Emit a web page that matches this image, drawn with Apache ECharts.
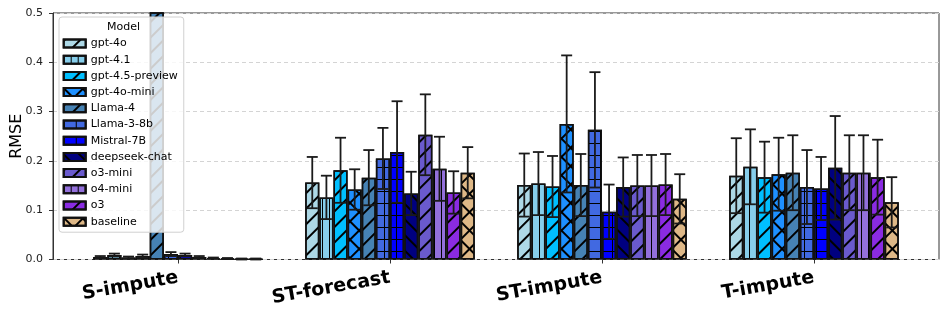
<!DOCTYPE html>
<html><head><meta charset="utf-8">
<script src="https://cdn.jsdelivr.net/npm/echarts@6/dist/echarts.min.js"></script>
<style>html,body{margin:0;padding:0;background:#fff}#c{width:947px;height:310px}</style>
</head><body><div id="c"></div>
<script>
const tasks = ['S-impute', 'ST-forecast', 'ST-impute', 'T-impute'];
const models = ['gpt-4o', 'gpt-4.1', 'gpt-4.5-preview', 'gpt-4o-mini', 'Llama-4', 'Llama-3-8b',
  'Mistral-7B', 'deepseek-chat', 'o3-mini', 'o4-mini', 'o3', 'baseline'];
const colors = ['#ADD8E6', '#87CEEB', '#00BFFF', '#1E90FF', '#4682B4', '#4169E1',
  '#0000FF', '#000080', '#6A5ACD', '#9370DB', '#8A2BE2', '#DEB887'];
const hatches = ['/', '|', '/', 'x', '/', '+', '+', '\\', '/', '|', '/', 'x'];

// mean RMSE per model, one array per task
const sImputeMean  = [0.005, 0.009, 0.004, 0.007, 1.200, 0.011, 0.009, 0.005, 0.003, 0.002, 0.001, 0.001];
const sImputeStd   = [0.002, 0.003, 0.002, 0.003, 0.500, 0.004, 0.003, 0.002, 0.001, 0.001, 0.001, 0.001];
const stForecastMean = [0.156, 0.126, 0.181, 0.142, 0.166, 0.205, 0.218, 0.134, 0.253, 0.184, 0.136, 0.176];
const stForecastStd  = [0.052, 0.044, 0.066, 0.041, 0.056, 0.062, 0.103, 0.044, 0.082, 0.065, 0.043, 0.052];
const stImputeMean = [0.151, 0.154, 0.148, 0.275, 0.151, 0.263, 0.097, 0.147, 0.150, 0.150, 0.152, 0.123];
const stImputeStd  = [0.064, 0.064, 0.062, 0.139, 0.063, 0.117, 0.055, 0.060, 0.062, 0.062, 0.062, 0.050];
const tImputeMean  = [0.170, 0.188, 0.167, 0.173, 0.176, 0.147, 0.144, 0.186, 0.176, 0.176, 0.167, 0.116];
const tImputeStd   = [0.076, 0.076, 0.072, 0.074, 0.076, 0.075, 0.064, 0.105, 0.076, 0.076, 0.076, 0.051];
const yTicks = [0.0, 0.1, 0.2, 0.3, 0.4, 0.5];

const meansByTask = [sImputeMean, stForecastMean, stImputeMean, tImputeMean];
const stdsByTask = [sImputeStd, stForecastStd, stImputeStd, tImputeStd];
const YMAX = yTicks[yTicks.length - 1];
const FONT = 'DejaVu Sans';

function gridRows(p) { const r = [[p, 0]]; for (let i = 1; i < p; i++) r.push([1, p - 1]); return r; }
function crossRows(p) { const r = [[p, 0], [p, 0]]; for (let i = 2; i < p; i++) r.push([2, p - 2]); return r; }
function decalFor(h) {
  const b = { symbol: 'rect', symbolSize: 1, symbolKeepAspect: false, color: '#000', backgroundColor: null };
  if (h === '/') return Object.assign(b, { dashArrayX: [1, 0], dashArrayY: [2, 9], rotation: -Math.PI / 4 });
  if (h === '\\') return Object.assign(b, { dashArrayX: [1, 0], dashArrayY: [2, 9], rotation: Math.PI / 4 });
  if (h === '|') return Object.assign(b, { dashArrayX: [1, 6], dashArrayY: [1, 0] });
  if (h === '+') return Object.assign(b, { dashArrayX: gridRows(12), dashArrayY: [1, 0] });
  if (h === 'x') return Object.assign(b, { dashArrayX: crossRows(13), dashArrayY: [1, 0], rotation: Math.PI / 4 });
  return null;
}

const barSeries = models.map((m, k) => ({
  name: m, type: 'bar', xAxisIndex: 1, yAxisIndex: 1,
  barGap: '0%', barCategoryGap: '20%',
  data: meansByTask.map(arr => arr[k]),
  itemStyle: { color: colors[k], borderColor: '#111', borderWidth: 1.5, decal: decalFor(hatches[k]) },
  emphasis: { disabled: true }, z: 2
}));

const errData = [];
tasks.forEach((t, ti) => models.forEach((m, k) => errData.push([ti, k, meansByTask[ti][k], stdsByTask[ti][k]])));

const errSeries = {
  type: 'custom', xAxisIndex: 1, yAxisIndex: 1, z: 5, silent: true,
  encode: { x: 0, y: 2 },
  data: errData,
  renderItem(params, api) {
    const ci = api.value(0), k = api.value(1), m = api.value(2), s = api.value(3);
    const lo = Math.max(0, m - s), hi = Math.min(YMAX, m + s);
    if (lo >= YMAX) return null;
    const band = api.size([1, 0])[0];
    const bw = band * 0.8 / models.length;
    const off = (k - (models.length - 1) / 2) * bw;
    const pHi = api.coord([ci, hi]), pLo = api.coord([ci, lo]);
    const x = pHi[0] + off, cap = 5.5;
    const st = { stroke: '#1a1a1a', lineWidth: 1.8 };
    const ch = [{ type: 'line', shape: { x1: x, y1: pLo[1], x2: x, y2: pHi[1] }, style: st }];
    if (m - s >= 0) ch.push({ type: 'line', shape: { x1: x - cap, y1: pLo[1], x2: x + cap, y2: pLo[1] }, style: st });
    if (m + s <= YMAX) ch.push({ type: 'line', shape: { x1: x - cap, y1: pHi[1], x2: x + cap, y2: pHi[1] }, style: st });
    return { type: 'group', children: ch };
  }
};

const chart = echarts.init(document.getElementById('c'), null, { renderer: 'canvas' });
chart.setOption({
  animation: false,
  backgroundColor: '#fff',
  textStyle: { fontFamily: FONT },
  grid: [
    { left: 53, right: 8, top: 13, bottom: 50.5, show: true, borderColor: '#333', borderWidth: 1, outerBoundsMode: 'none', containLabel: false },
    { left: 72, right: 27, top: 13, bottom: 50.5, outerBoundsMode: 'none', containLabel: false }
  ],
  xAxis: [
    { type: 'value', gridIndex: 0, min: 0, max: 1, show: false },
    { type: 'category', gridIndex: 1, data: tasks,
      axisLine: { show: false },
      axisTick: { show: true, alignWithLabel: true, length: 4, lineStyle: { color: '#333' } },
      axisLabel: { rotate: 10, margin: 18, fontSize: 19, fontWeight: 'bold', color: '#000', fontFamily: FONT, interval: 0 },
      splitLine: { show: false } }
  ],
  yAxis: [
    { type: 'value', gridIndex: 0, min: 0, max: YMAX, interval: 0.1,
      name: 'RMSE', nameLocation: 'middle', nameGap: 28, nameRotate: 90, nameMoveOverlap: false,
      nameTextStyle: { fontSize: 16, color: '#000', fontFamily: FONT },
      axisLine: { show: true, lineStyle: { color: '#333' } },
      axisTick: { show: true, length: 4, lineStyle: { color: '#333' } },
      axisLabel: { margin: 10, fontSize: 11, color: '#222', fontFamily: FONT, formatter: v => v.toFixed(1) },
      splitLine: { show: true, lineStyle: { type: [4, 3], color: '#d4d4d4', width: 1 } } },
    { type: 'value', gridIndex: 1, min: 0, max: YMAX, show: false, splitLine: { show: false } }
  ],
  legend: {
    data: models, orient: 'vertical', left: 59, top: 17,
    padding: [21, 6, 5, 3.7],
    itemWidth: 22, itemHeight: 8, itemGap: 5.2, itemTextGap: 12,
    icon: 'rect', selectedMode: false,
    backgroundColor: 'rgba(255,255,255,0.8)', borderColor: '#d0d0d0', borderWidth: 1, borderRadius: 3,
    textStyle: { fontSize: 11, color: '#000', fontFamily: FONT }
  },
  graphic: [{ type: 'text', x: 123.5, y: 27, z: 100,
    style: { text: 'Model', textAlign: 'center', textVerticalAlign: 'middle', fontSize: 11, fontFamily: FONT, fill: '#000' } }],
  series: barSeries.concat([errSeries])
});
</script></body></html>
